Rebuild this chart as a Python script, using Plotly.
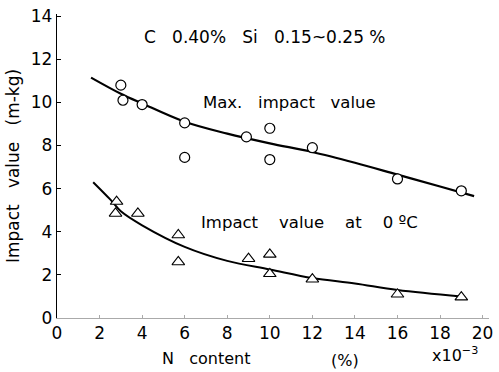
import plotly.graph_objects as go

# Measured points: N content (x10^-3 %) vs impact value (m-kg)
max_n = [3.0, 3.1, 4.0, 6.0, 6.0, 8.9, 10.0, 10.0, 12.0, 16.0, 19.0]
max_val = [10.8, 10.1, 9.9, 9.05, 7.45, 8.4, 8.8, 7.35, 7.9, 6.45, 5.9]

zero_n = [2.8, 2.75, 3.8, 5.7, 5.7, 9.0, 10.0, 10.0, 12.0, 16.0, 19.0]
zero_val = [5.4, 4.85, 4.85, 3.85, 2.6, 2.75, 2.95, 2.05, 1.8, 1.1, 0.97]

# Hand-fitted trend curves
max_fit_n = [1.6, 3.0, 4.0, 6.0, 8.0, 10.0, 12.0, 14.0, 16.0, 18.0, 19.6]
max_fit_val = [11.15, 10.4, 9.95, 9.1, 8.55, 8.1, 7.7, 7.2, 6.65, 6.1, 5.65]

zero_fit_n = [1.7, 2.5, 3.0, 4.0, 6.0, 8.0, 10.0, 12.0, 14.0, 16.0, 19.0]
zero_fit_val = [6.3, 5.5, 4.95, 4.3, 3.3, 2.65, 2.25, 1.85, 1.6, 1.3, 1.0]

x_ticks = [0, 2, 4, 6, 8, 10, 12, 14, 16, 18, 20]
y_ticks = [0, 2, 4, 6, 8, 10, 12, 14]

FONT = "DejaVu Sans"
W, H = 499, 372
ML, MR, MT, MB = 57, 6, 14, 54
PW, PH = W - ML - MR, H - MT - MB

fig = go.Figure()
fig.add_trace(go.Scatter(x=max_fit_n, y=max_fit_val, mode="lines",
                         line=dict(color="black", width=2.2, shape="spline"),
                         hoverinfo="skip"))
fig.add_trace(go.Scatter(x=zero_fit_n, y=zero_fit_val, mode="lines",
                         line=dict(color="black", width=2.0, shape="spline"),
                         hoverinfo="skip"))
fig.add_trace(go.Scatter(x=max_n, y=max_val, mode="markers",
                         marker=dict(symbol="circle", size=10, color="white",
                                     line=dict(color="black", width=1.2))))
fig.add_trace(go.Scatter(x=zero_n, y=zero_val, mode="markers",
                         marker=dict(symbol="triangle-up", size=11, color="white",
                                     line=dict(color="black", width=1.1))))


def data_text(text, x, y, size=16):
    fig.add_annotation(text=text, x=x, y=y, xref="x", yref="y",
                       xanchor="left", yanchor="middle", showarrow=False,
                       font=dict(family=FONT, size=size, color="black"))


data_text("C   0.40%   Si   0.15~0.25 %", 4.0, 13.05, size=17)
data_text("Max.   impact   value", 6.75, 9.98, size=16.5)
data_text("Impact    value    at    0 ºC", 6.65, 4.45, size=16.5)


def pixel_text(text, px, py, size=16):
    fig.add_annotation(text=text, x=(px - ML) / PW, y=(H - MB - py) / PH,
                       xref="paper", yref="paper", xanchor="center", yanchor="middle",
                       showarrow=False, font=dict(family=FONT, size=size, color="black"))


pixel_text("N   content", 207, 358)
pixel_text("(%)", 348, 360)
pixel_text("x10<sup>−3</sup>", 459, 354)

fig.update_layout(
    width=W, height=H,
    margin=dict(l=ML, r=MR, t=MT, b=MB),
    paper_bgcolor="white", plot_bgcolor="white",
    showlegend=False,
    font=dict(family=FONT, color="black"),
    xaxis=dict(range=[0, 20.3], tickvals=x_ticks, ticktext=[str(v) for v in x_ticks],
               showgrid=False, zeroline=False, showline=True, linecolor="#aaaaaa",
               linewidth=1, ticks="inside", ticklen=3, tickcolor="#aaaaaa",
               tickfont=dict(family=FONT, size=17), ticklabelstandoff=0),
    yaxis=dict(range=[0, 14.1], tickvals=y_ticks, ticktext=[str(v) for v in y_ticks],
               showgrid=False, zeroline=False, showline=True, linecolor="black",
               linewidth=1.3, ticks="inside", ticklen=4, tickcolor="black",
               tickfont=dict(family=FONT, size=17),
               title=dict(text="Impact   value   (m-kg)", standoff=6,
                          font=dict(family=FONT, size=17))),
)

fig.write_html("out.html")
